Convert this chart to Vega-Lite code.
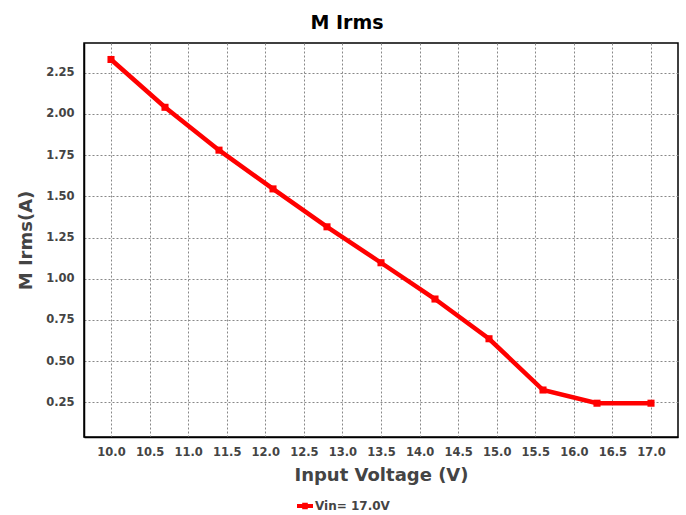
{
  "$schema": "https://vega.github.io/schema/vega-lite/v6.json",
  "width": 594,
  "height": 394,
  "autosize": {"type": "none"},
  "padding": {"left": 84, "top": 43, "right": 8, "bottom": 78},
  "background": "white",
  "title": {
    "text": "M Irms",
    "font": "DejaVu Sans",
    "fontSize": 19,
    "fontWeight": "bold",
    "color": "#000000",
    "anchor": "middle",
    "dx": -34,
    "offset": 10
  },
  "config": {
    "view": {"stroke": "#000000", "strokeWidth": 1.5},
    "axis": {
      "labelFont": "DejaVu Sans",
      "labelFontWeight": "bold",
      "labelFontSize": 11.5,
      "labelColor": "#444444",
      "titleFont": "DejaVu Sans",
      "titleFontWeight": "bold",
      "titleFontSize": 18,
      "titleColor": "#444444",
      "domainColor": "#000000",
      "domainWidth": 1.5,
      "ticks": false,
      "gridColor": "#888888",
      "gridDash": [2, 2],
      "gridWidth": 1
    }
  },
  "data": {
    "values": [
      {"vin": 10.0, "irms": 2.33, "series": "Vin= 17.0V"},
      {"vin": 10.7, "irms": 2.04, "series": "Vin= 17.0V"},
      {"vin": 11.4, "irms": 1.78, "series": "Vin= 17.0V"},
      {"vin": 12.1, "irms": 1.545, "series": "Vin= 17.0V"},
      {"vin": 12.8, "irms": 1.315, "series": "Vin= 17.0V"},
      {"vin": 13.5, "irms": 1.097, "series": "Vin= 17.0V"},
      {"vin": 14.2, "irms": 0.877, "series": "Vin= 17.0V"},
      {"vin": 14.9, "irms": 0.636, "series": "Vin= 17.0V"},
      {"vin": 15.6, "irms": 0.325, "series": "Vin= 17.0V"},
      {"vin": 16.3, "irms": 0.245, "series": "Vin= 17.0V"},
      {"vin": 17.0, "irms": 0.245, "series": "Vin= 17.0V"}
    ]
  },
  "mark": {
    "type": "line",
    "strokeWidth": 4.5,
    "point": {"shape": "square", "size": 50, "filled": true, "opacity": 1}
  },
  "encoding": {
    "x": {
      "field": "vin",
      "type": "quantitative",
      "title": "Input Voltage (V)",
      "scale": {"domain": [9.65, 17.35], "nice": false, "zero": false},
      "axis": {
        "values": [10, 10.5, 11, 11.5, 12, 12.5, 13, 13.5, 14, 14.5, 15, 15.5, 16, 16.5, 17],
        "format": ".1f",
        "labelPadding": 9,
        "titlePadding": 9
      }
    },
    "y": {
      "field": "irms",
      "type": "quantitative",
      "title": "M Irms(A)",
      "scale": {"domain": [0.04, 2.43], "nice": false, "zero": false},
      "axis": {
        "values": [0.25, 0.5, 0.75, 1.0, 1.25, 1.5, 1.75, 2.0, 2.25],
        "format": ".2f",
        "labelPadding": 10,
        "titlePadding": 10
      }
    },
    "color": {
      "field": "series",
      "type": "nominal",
      "scale": {"range": ["#ff0000"]},
      "legend": {
        "title": null,
        "orient": "none",
        "legendX": 213,
        "legendY": 455,
        "symbolType": "M-1,-0.25H-0.35V-0.4H0.35V-0.25H1V0.25H0.35V0.4H-0.35V0.25H-1Z",
        "symbolSize": 256,
        "symbolStrokeWidth": 0,
        "labelFont": "DejaVu Sans",
        "labelFontWeight": "bold",
        "labelFontSize": 12,
        "labelColor": "#444444",
        "labelOffset": 2
      }
    }
  }
}
